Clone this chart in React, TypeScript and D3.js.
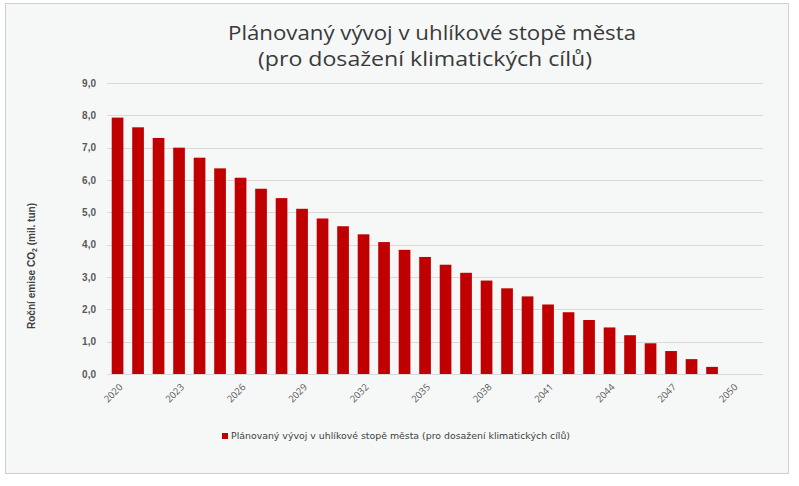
import React from "react";
import * as d3 from "d3";

const years: string[] = [
  "2020","2021","2022","2023","2024","2025","2026","2027","2028","2029",
  "2030","2031","2032","2033","2034","2035","2036","2037","2038","2039",
  "2040","2041","2042","2043","2044","2045","2046","2047","2048","2049",
  "2050","2051",
];
const emissions: number[] = [
  7.93, 7.63, 7.30, 7.00, 6.69, 6.36, 6.07, 5.73, 5.44, 5.11,
  4.81, 4.57, 4.32, 4.08, 3.84, 3.62, 3.38, 3.13, 2.89, 2.65,
  2.40, 2.15, 1.91, 1.67, 1.44, 1.20, 0.95, 0.71, 0.46, 0.22,
  0, 0,
];
const labeledYears: string[] = ["2020","2023","2026","2029","2032","2035","2038","2041","2044","2047","2050"];
const yTicks: number[] = [0, 1, 2, 3, 4, 5, 6, 7, 8, 9];
const titleLines: string[] = ["Plánovaný vývoj v uhlíkové stopě města", "(pro dosažení klimatických cílů)"];
const seriesName = "Plánovaný vývoj v uhlíkové stopě města (pro dosažení klimatických cílů)";

export default function App() {
  const W = 799, H = 486;
  const left = 107.3, right = 763.3, top = 83, bottom = 374;
  const x = d3.scaleBand<string>().domain(years).range([left, right]).paddingInner(0.43).paddingOuter(0.215);
  const y = d3.scaleLinear().domain([0, 9]).range([bottom, top]);
  const fmt = (v: number) => d3.format(".1f")(v).replace(".", ",");
  const red = "#c00000";
  const titleWidths = [408, 334];
  return (
    <svg width={W} height={H} style={{ position: "absolute", left: 0, top: 0 }}>
      <rect x={0} y={0} width={W} height={H} fill="#ffffff" />
      <rect x={5.5} y={3.5} width={783} height={470} fill="#f6f8f7" stroke="#cfcfcf" strokeWidth={1} />
      <g fontFamily="'Open Sans', sans-serif" fill="#3a3a3a" textAnchor="middle" fontSize={20.5}>
        {titleLines.map((t, i) => (
          <text key={i} x={i === 0 ? 432 : 425} y={40 + i * 26} textLength={titleWidths[i]} lengthAdjust="spacingAndGlyphs">{t}</text>
        ))}
      </g>
      <g>
        {yTicks.map((t) => (
          <line key={t} x1={left} x2={right} y1={Math.round(y(t)) + 0.5} y2={Math.round(y(t)) + 0.5}
            stroke="#d9d9d9" strokeWidth={1} />
        ))}
      </g>
      <g fontFamily="'Liberation Sans', Arial, sans-serif" fontWeight="bold" fontSize={10} fill="#595959" textAnchor="end">
        {yTicks.map((t) => (
          <text key={t} x={96} y={y(t)} dy="0.35em">{fmt(t)}</text>
        ))}
      </g>
      <g>
        {years.map((yr, i) => emissions[i] > 0 ? (
          <rect key={yr} x={x(yr)} y={y(emissions[i])} width={x.bandwidth()} height={y(0) - y(emissions[i])} fill={red} />
        ) : null)}
      </g>
      <g fontFamily="'Open Sans', sans-serif" fontSize={9.5} fill="#595959" textAnchor="end">
        {labeledYears.map((yr) => {
          const cx = (x(yr) as number) + x.bandwidth() / 2 + 1;
          return (
            <text key={yr} transform={`translate(${cx},${383}) rotate(-45)`} dy="0.7em">{yr}</text>
          );
        })}
      </g>
      <text transform={`translate(35,266) rotate(-90)`} textAnchor="middle"
        fontFamily="'Liberation Sans', Arial, sans-serif" fontWeight="bold" fontSize={10} fill="#404040"
        textLength={126} lengthAdjust="spacingAndGlyphs">
        Roční emise CO<tspan fontSize={7} dy={2}>2</tspan><tspan dy={-2}> (mil. tun)</tspan>
      </text>
      <rect x={222} y={433} width={6} height={6} fill={red} />
      <text x={231} y={439} fontFamily="'DejaVu Sans', Verdana, sans-serif" fontSize={8.5} fill="#404040"
        textLength={339} lengthAdjust="spacingAndGlyphs">{seriesName}</text>
    </svg>
  );
}
